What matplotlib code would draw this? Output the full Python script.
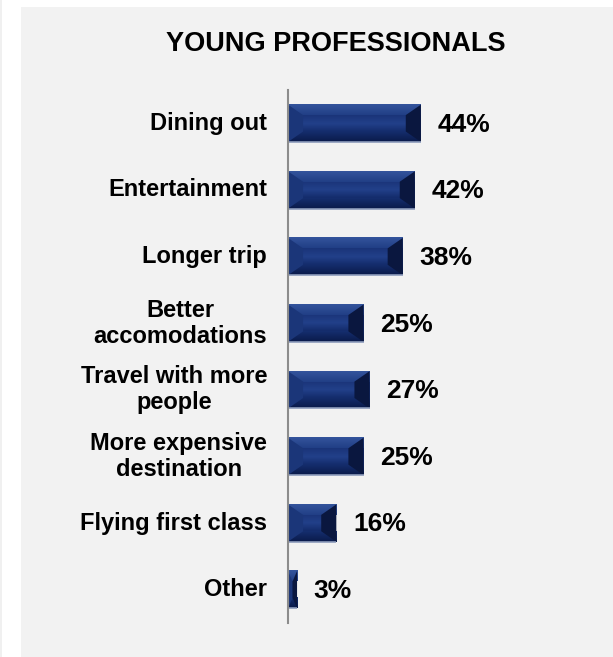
import matplotlib
matplotlib.use('Agg')
import matplotlib.pyplot as plt
import matplotlib.patches as patches
from matplotlib.colors import LinearSegmentedColormap
import numpy as np

plt.rcParams['font.family'] = ['Liberation Sans', 'DejaVu Sans']

categories = [
    'Dining out',
    'Entertainment',
    'Longer trip',
    'Better\naccomodations',
    'Travel with more\npeople',
    'More expensive\ndestination',
    'Flying first class',
    'Other',
]
values = [44, 42, 38, 25, 27, 25, 16, 3]
title = 'YOUNG PROFESSIONALS'

W, H = 613, 657
fig = plt.figure(figsize=(W / 100, H / 100), dpi=100, facecolor='white')

# light grey panel behind the chart
fig.patches.append(patches.Rectangle(
    (21 / W, 0), 1 - 21 / W, 1 - 7 / H,
    transform=fig.transFigure, facecolor='#f2f2f2', edgecolor='none', zorder=-5))
fig.patches.append(patches.Rectangle(
    (0, 0), 2 / W, 1, transform=fig.transFigure,
    facecolor='#f0f0f0', edgecolor='none', zorder=-5))

ax = fig.add_axes([288 / W, 34 / H, (600 - 288) / W, (623 - 90) / H])
ax.set_facecolor('none')

y = np.arange(len(categories))
bar_h = 0.56
bars = ax.barh(y, values, height=bar_h, color='#142b6e', edgecolor='none', zorder=2)

top_cmap = LinearSegmentedColormap.from_list('tb', ['#34549c', '#213f86'])
bot_cmap = LinearSegmentedColormap.from_list('bb', ['#152e6e', '#0a1a4a'])
face_cmap = LinearSegmentedColormap.from_list('fc', ['#1a3479', '#22408a', '#142c6c'])
grad = np.linspace(0, 1, 20).reshape(-1, 1)

# bevelled look on each bar (y axis is inverted: get_y() is the visual top)
bev_x = 5.0
for bar in bars:
    x0 = bar.get_x()
    w = bar.get_width()
    yt = bar.get_y()
    h = bar.get_height()
    yb = yt + h
    bx = min(bev_x, w / 2)
    by = h * 0.28
    ax.imshow(grad, extent=(x0, x0 + w, yt + by, yt), origin='upper',
              aspect='auto', cmap=top_cmap, zorder=3)
    ax.imshow(grad, extent=(x0, x0 + w, yb, yb - by), origin='upper',
              aspect='auto', cmap=bot_cmap, zorder=3)
    # center face
    face = ax.imshow(grad, extent=(x0, x0 + w, yb - by, yt + by), origin='upper',
                     aspect='auto', cmap=face_cmap, zorder=4)
    face.set_clip_path(patches.Rectangle((x0 + bx, yt + by), w - 2 * bx, h - 2 * by,
                                         transform=ax.transData))
    # left bevel
    ax.add_patch(patches.Polygon([(x0, yt), (x0 + bx, yt + by), (x0 + bx, yb - by), (x0, yb)],
                                 closed=True, facecolor='#1b3679', edgecolor='none', zorder=4))
    # right bevel
    ax.add_patch(patches.Polygon([(x0 + w, yt), (x0 + w - bx, yt + by),
                                  (x0 + w - bx, yb - by), (x0 + w, yb)],
                                 closed=True, facecolor='#0a173f', edgecolor='none', zorder=4))
    # light bottom edge
    ax.plot([x0, x0 + w], [yb, yb], color='#8e9cbc', linewidth=1.2, zorder=5,
            solid_capstyle='butt')

xmax = (600 - 288) / 3.02
ax.set_xlim(0, xmax)
ax.set_ylim(len(categories) - 0.5, -0.5)

for yi, v in zip(y, values):
    ax.annotate(f'{v}%', xy=(v, yi), xytext=(12, -1), textcoords='offset points',
                ha='left', va='center', fontsize=19, fontweight='bold', color='black')

for yi, lab in zip(y, categories):
    ax.annotate(lab, xy=(0, yi), xytext=(-15, 0), textcoords='offset points',
                ha='right', va='center', multialignment='center',
                fontsize=17, fontweight='bold', color='black', linespacing=1.15)

for s in ['top', 'right', 'bottom']:
    ax.spines[s].set_visible(False)
ax.spines['left'].set_color('#8c8c8c')
ax.spines['left'].set_linewidth(1.5)
ax.spines['left'].set_zorder(6)
ax.set_xticks([])
ax.set_yticks([])

fig.text(336 / W, 1 - 44 / H, title, ha='center', va='center',
         fontsize=19.5, fontweight='bold', color='black')

fig.savefig('out.png', dpi=100, facecolor=fig.get_facecolor())
